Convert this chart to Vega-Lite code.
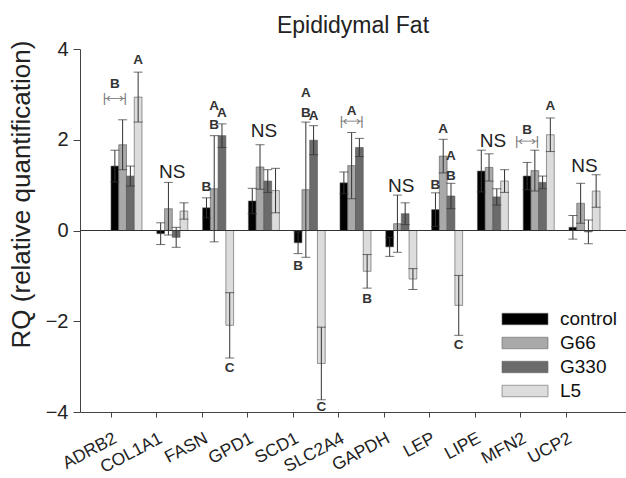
{
  "$schema": "https://vega.github.io/schema/vega-lite/v6.json",
  "width": 546,
  "height": 363,
  "autosize": {"type": "none"},
  "padding": {"left": 80, "top": 49, "right": 0, "bottom": 66},
  "background": "white",
  "config": {"view": {"stroke": null}, "font": "Liberation Sans"},
  "title": {"text": "Epididymal Fat", "fontSize": 23, "fontWeight": "normal", "color": "#222", "anchor": "middle", "offset": 1},
  "datasets": {
    "bars": [
      {"gene": "ADRB2", "group": "control", "value": 1.42, "err": 0.35},
      {"gene": "ADRB2", "group": "G66", "value": 1.89, "err": 0.55},
      {"gene": "ADRB2", "group": "G330", "value": 1.20, "err": 0.22},
      {"gene": "ADRB2", "group": "L5", "value": 2.94, "err": 0.55},
      {"gene": "COL1A1", "group": "control", "value": -0.07, "err": 0.24},
      {"gene": "COL1A1", "group": "G66", "value": 0.48, "err": 0.58},
      {"gene": "COL1A1", "group": "G330", "value": -0.15, "err": 0.22},
      {"gene": "COL1A1", "group": "L5", "value": 0.43, "err": 0.18},
      {"gene": "FASN", "group": "control", "value": 0.50, "err": 0.22},
      {"gene": "FASN", "group": "G66", "value": 0.92, "err": 1.17},
      {"gene": "FASN", "group": "G330", "value": 2.09, "err": 0.26},
      {"gene": "FASN", "group": "L5", "value": -2.09, "err": 0.72},
      {"gene": "GPD1", "group": "control", "value": 0.65, "err": 0.28},
      {"gene": "GPD1", "group": "G66", "value": 1.40, "err": 0.49},
      {"gene": "GPD1", "group": "G330", "value": 1.09, "err": 0.25},
      {"gene": "GPD1", "group": "L5", "value": 0.88, "err": 0.49},
      {"gene": "SCD1", "group": "control", "value": -0.27, "err": 0.24},
      {"gene": "SCD1", "group": "G66", "value": 0.90, "err": 1.49},
      {"gene": "SCD1", "group": "G330", "value": 1.99, "err": 0.32},
      {"gene": "SCD1", "group": "L5", "value": -2.93, "err": 0.80},
      {"gene": "SLC2A4", "group": "control", "value": 1.05, "err": 0.24},
      {"gene": "SLC2A4", "group": "G66", "value": 1.43, "err": 0.73},
      {"gene": "SLC2A4", "group": "G330", "value": 1.83, "err": 0.20},
      {"gene": "SLC2A4", "group": "L5", "value": -0.90, "err": 0.37},
      {"gene": "GAPDH", "group": "control", "value": -0.36, "err": 0.21},
      {"gene": "GAPDH", "group": "G66", "value": 0.15, "err": 0.63},
      {"gene": "GAPDH", "group": "G330", "value": 0.37, "err": 0.24},
      {"gene": "GAPDH", "group": "L5", "value": -1.07, "err": 0.23},
      {"gene": "LEP", "group": "control", "value": 0.46, "err": 0.37},
      {"gene": "LEP", "group": "G66", "value": 1.64, "err": 0.37},
      {"gene": "LEP", "group": "G330", "value": 0.76, "err": 0.28},
      {"gene": "LEP", "group": "L5", "value": -1.65, "err": 0.66},
      {"gene": "LIPE", "group": "control", "value": 1.31, "err": 0.46},
      {"gene": "LIPE", "group": "G66", "value": 1.39, "err": 0.30},
      {"gene": "LIPE", "group": "G330", "value": 0.74, "err": 0.18},
      {"gene": "LIPE", "group": "L5", "value": 1.09, "err": 0.25},
      {"gene": "MFN2", "group": "control", "value": 1.20, "err": 0.30},
      {"gene": "MFN2", "group": "G66", "value": 1.32, "err": 0.45},
      {"gene": "MFN2", "group": "G330", "value": 1.06, "err": 0.14},
      {"gene": "MFN2", "group": "L5", "value": 2.11, "err": 0.37},
      {"gene": "UCP2", "group": "control", "value": 0.07, "err": 0.26},
      {"gene": "UCP2", "group": "G66", "value": 0.60, "err": 0.44},
      {"gene": "UCP2", "group": "G330", "value": -0.03, "err": 0.26},
      {"gene": "UCP2", "group": "L5", "value": 0.87, "err": 0.36}
    ],
    "letters": [
      {"gene": "ADRB2", "group": "control", "y": 3.22, "text": "B"},
      {"gene": "ADRB2", "group": "L5", "y": 3.75, "text": "A"},
      {"gene": "FASN", "group": "control", "y": 0.95, "text": "B"},
      {"gene": "FASN", "group": "G66", "y": 2.32, "text": "B"},
      {"gene": "FASN", "group": "G66", "y": 2.74, "text": "A"},
      {"gene": "FASN", "group": "G330", "y": 2.60, "text": "A"},
      {"gene": "FASN", "group": "L5", "y": -3.04, "text": "C"},
      {"gene": "SCD1", "group": "control", "y": -0.79, "text": "B"},
      {"gene": "SCD1", "group": "G66", "y": 2.59, "text": "B"},
      {"gene": "SCD1", "group": "G66", "y": 3.03, "text": "A"},
      {"gene": "SCD1", "group": "G330", "y": 2.53, "text": "A"},
      {"gene": "SCD1", "group": "L5", "y": -3.90, "text": "C"},
      {"gene": "SLC2A4", "group": "G66", "y": 2.63, "text": "A"},
      {"gene": "SLC2A4", "group": "L5", "y": -1.50, "text": "B"},
      {"gene": "LEP", "group": "control", "y": 1.01, "text": "B"},
      {"gene": "LEP", "group": "G66", "y": 2.24, "text": "A"},
      {"gene": "LEP", "group": "G330", "y": 1.21, "text": "B"},
      {"gene": "LEP", "group": "G330", "y": 1.64, "text": "A"},
      {"gene": "LEP", "group": "L5", "y": -2.53, "text": "C"},
      {"gene": "MFN2", "group": "control", "y": 2.22, "text": "B"},
      {"gene": "MFN2", "group": "L5", "y": 2.74, "text": "A"}
    ],
    "ns": [
      {"gene": "COL1A1", "y": 1.28, "text": "NS"},
      {"gene": "GPD1", "y": 2.19, "text": "NS"},
      {"gene": "GAPDH", "y": 0.99, "text": "NS"},
      {"gene": "LIPE", "y": 1.97, "text": "NS"},
      {"gene": "UCP2", "y": 1.43, "text": "NS"}
    ],
    "brackets": [
      {"gene": "ADRB2", "group": "control", "y": 2.91},
      {"gene": "SLC2A4", "group": "G66", "y": 2.41},
      {"gene": "MFN2", "group": "control", "y": 1.97}
    ]
  },
  "layer": [
    {
      "layer": [
        {
          "data": {"name": "bars"},
          "mark": {"type": "bar", "stroke": "#555", "strokeWidth": 0.6},
          "encoding": {
            "x": {"field": "gene", "type": "nominal", "scale": {"domain": ["ADRB2","COL1A1","FASN","GPD1","SCD1","SLC2A4","GAPDH","LEP","LIPE","MFN2","UCP2"], "paddingInner": 0.323, "paddingOuter": 0.622, "align": 0.544}, "axis": null},
            "xOffset": {"field": "group", "type": "nominal", "scale": {"domain": ["control","G66","G330","L5"], "paddingInner": 0, "paddingOuter": 0}},
            "y": {"field": "value", "type": "quantitative", "scale": {"domain": [-4, 4], "nice": false}, "title": "RQ (relative quantification)",
                  "axis": {"values": [-4,-2,0,2,4], "grid": false, "tickSize": 7, "labelFontSize": 20, "labelPadding": 5, "labelColor": "#222", "domainColor": "#444", "tickColor": "#444", "titleFontSize": 26, "titleFontWeight": "normal", "titleColor": "#222", "titleX": -59, "titleY": 145, "titleAlign": "center", "titleBaseline": "middle", "titleAngle": -90}},
            "color": {"field": "group", "type": "nominal", "scale": {"domain": ["control","G66","G330","L5"], "range": ["#000000","#a9a9a9","#6b6b6b","#dcdcdc"]},
                      "legend": {"orient": "none", "legendX": 433, "legendY": 258, "title": null, "symbolType": "M-2,-0.5H2V0.5H-2Z", "symbolSize": 529, "symbolStrokeColor": "#666", "symbolStrokeWidth": 0.6, "labelFontSize": 19, "labelColor": "#111", "labelOffset": 23, "rowPadding": 2}}
          }
        },
        {
          "data": {"name": "bars"},
          "mark": {"type": "errorbar", "ticks": {"size": 9, "color": "#333"}, "color": "#333", "thickness": 1},
          "encoding": {
            "x": {"field": "gene", "type": "nominal", "scale": {"domain": ["ADRB2","COL1A1","FASN","GPD1","SCD1","SLC2A4","GAPDH","LEP","LIPE","MFN2","UCP2"], "paddingInner": 0.323, "paddingOuter": 0.622, "align": 0.544}, "axis": null},
            "xOffset": {"field": "group", "type": "nominal", "scale": {"domain": ["control","G66","G330","L5"], "paddingInner": 0, "paddingOuter": 0}},
            "y": {"field": "value", "type": "quantitative", "title": "RQ (relative quantification)"},
            "yError": {"field": "err"}
          }
        },
        {
          "data": {"values": [{}]},
          "mark": {"type": "rule", "color": "#333", "strokeWidth": 1},
          "encoding": {"y": {"datum": 0}}
        },
        {
          "data": {"name": "letters"},
          "mark": {"type": "text", "fontSize": 13.5, "fontWeight": "bold", "color": "#333", "baseline": "middle"},
          "encoding": {
            "x": {"field": "gene", "type": "nominal", "scale": {"domain": ["ADRB2","COL1A1","FASN","GPD1","SCD1","SLC2A4","GAPDH","LEP","LIPE","MFN2","UCP2"], "paddingInner": 0.323, "paddingOuter": 0.622, "align": 0.544}, "axis": null},
            "xOffset": {"field": "group", "type": "nominal", "scale": {"domain": ["control","G66","G330","L5"], "paddingInner": 0, "paddingOuter": 0}},
            "y": {"field": "y", "type": "quantitative", "title": "RQ (relative quantification)"},
            "text": {"field": "text"}
          }
        },
        {
          "data": {"name": "ns"},
          "mark": {"type": "text", "fontSize": 19, "color": "#222", "baseline": "middle"},
          "encoding": {
            "x": {"field": "gene", "type": "nominal", "scale": {"domain": ["ADRB2","COL1A1","FASN","GPD1","SCD1","SLC2A4","GAPDH","LEP","LIPE","MFN2","UCP2"], "paddingInner": 0.323, "paddingOuter": 0.622, "align": 0.544}, "axis": null},
            "y": {"field": "y", "type": "quantitative", "title": "RQ (relative quantification)"},
            "text": {"field": "text"}
          }
        },
        {
          "data": {"name": "brackets"},
          "mark": {"type": "tick", "orient": "horizontal", "size": 22, "thickness": 1, "color": "#888", "fill": "#888", "opacity": 1},
          "encoding": {
            "x": {"field": "gene", "type": "nominal", "scale": {"domain": ["ADRB2","COL1A1","FASN","GPD1","SCD1","SLC2A4","GAPDH","LEP","LIPE","MFN2","UCP2"], "paddingInner": 0.323, "paddingOuter": 0.622, "align": 0.544}, "axis": null},
            "xOffset": {"field": "group", "type": "nominal", "scale": {"domain": ["control","G66","G330","L5"], "paddingInner": 0, "paddingOuter": 0}},
            "y": {"field": "y", "type": "quantitative", "title": "RQ (relative quantification)"}
          }
        },
        {
          "data": {"name": "brackets"},
          "mark": {"type": "text", "text": "|‹", "fontSize": 13, "color": "#777", "fill": "#777", "baseline": "middle", "align": "left", "dx": -12},
          "encoding": {
            "x": {"field": "gene", "type": "nominal", "scale": {"domain": ["ADRB2","COL1A1","FASN","GPD1","SCD1","SLC2A4","GAPDH","LEP","LIPE","MFN2","UCP2"], "paddingInner": 0.323, "paddingOuter": 0.622, "align": 0.544}, "axis": null},
            "xOffset": {"field": "group", "type": "nominal", "scale": {"domain": ["control","G66","G330","L5"], "paddingInner": 0, "paddingOuter": 0}},
            "y": {"field": "y", "type": "quantitative", "title": "RQ (relative quantification)"}
          }
        },
        {
          "data": {"name": "brackets"},
          "mark": {"type": "text", "text": "›|", "fontSize": 13, "color": "#777", "fill": "#777", "baseline": "middle", "align": "right", "dx": 12},
          "encoding": {
            "x": {"field": "gene", "type": "nominal", "scale": {"domain": ["ADRB2","COL1A1","FASN","GPD1","SCD1","SLC2A4","GAPDH","LEP","LIPE","MFN2","UCP2"], "paddingInner": 0.323, "paddingOuter": 0.622, "align": 0.544}, "axis": null},
            "xOffset": {"field": "group", "type": "nominal", "scale": {"domain": ["control","G66","G330","L5"], "paddingInner": 0, "paddingOuter": 0}},
            "y": {"field": "y", "type": "quantitative", "title": "RQ (relative quantification)"}
          }
        }
      ]
    },
    {
      "data": {"name": "ns"},
      "mark": {"type": "point", "opacity": 0},
      "encoding": {
        "x": {"field": "gene", "type": "nominal", "scale": {"type": "point", "domain": ["ADRB2","COL1A1","FASN","GPD1","SCD1","SLC2A4","GAPDH","LEP","LIPE","MFN2","UCP2"], "padding": 1.454, "align": 0.339},
              "axis": {"title": null, "labelAngle": -28, "labelAlign": "right", "labelBaseline": "top", "labelFontSize": 17.5, "labelColor": "#222", "labelPadding": 12, "tickSize": 5, "domainColor": "#444", "tickColor": "#444", "grid": false}}
      }
    }
  ],
  "resolve": {"scale": {"x": "independent"}, "axis": {"x": "independent"}}
}
